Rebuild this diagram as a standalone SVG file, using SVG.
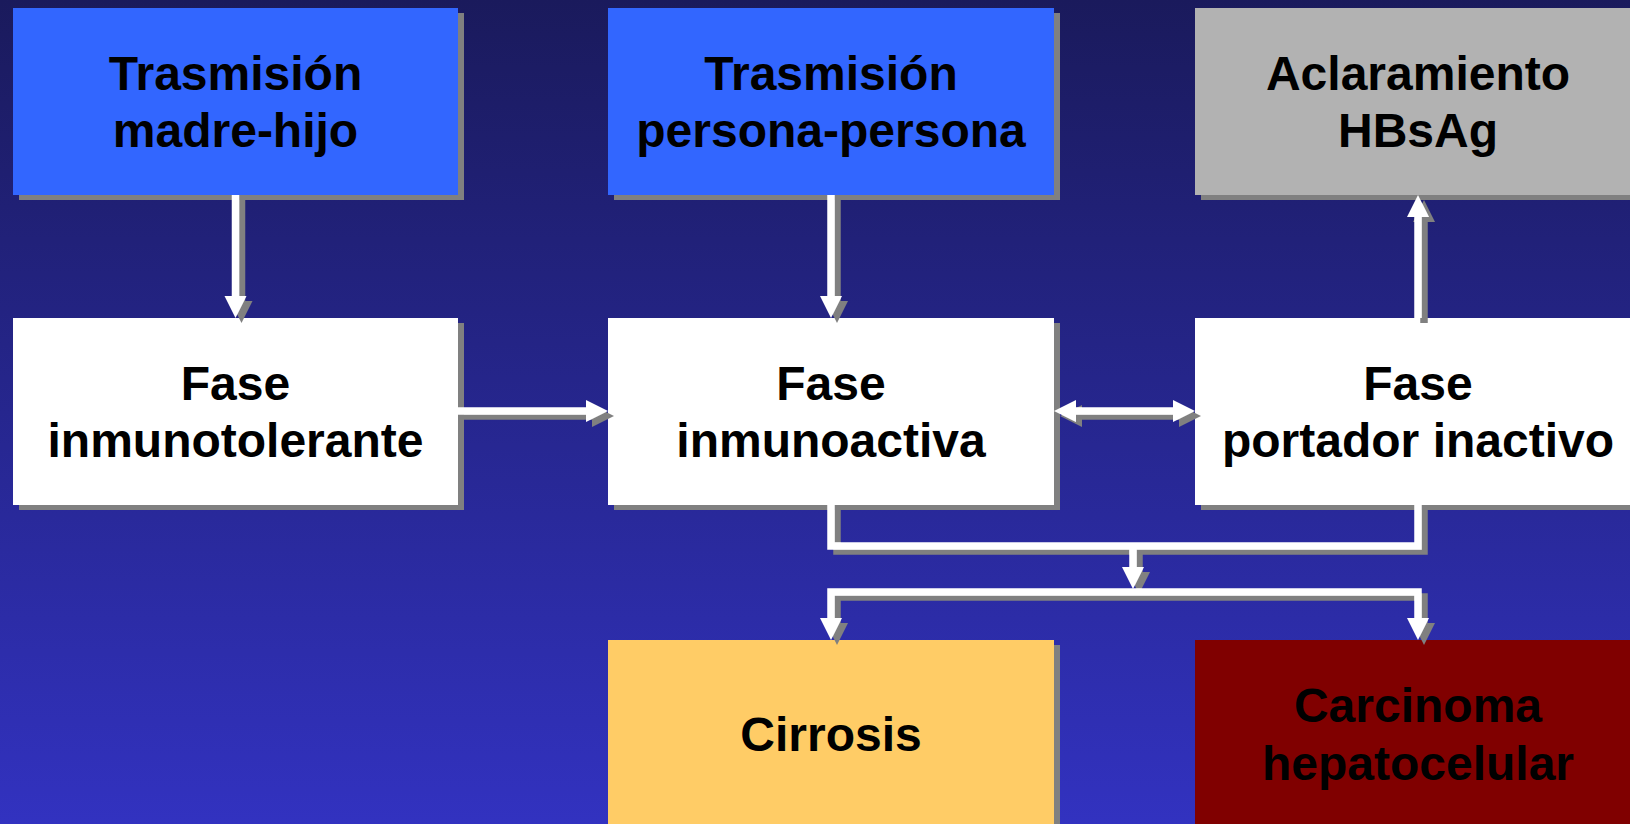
<svg xmlns="http://www.w3.org/2000/svg" width="1630" height="824" viewBox="0 0 1630 824">
  <defs>
    <linearGradient id="bg" x1="0" y1="0" x2="0" y2="1">
      <stop offset="0" stop-color="#1a1a5c"/>
      <stop offset="1" stop-color="#3232c0"/>
    </linearGradient>
    <filter id="boxsh" filterUnits="userSpaceOnUse" x="0" y="0" width="1630" height="824">
      <feOffset in="SourceAlpha" dx="6" dy="5" result="o"/>
      <feFlood flood-color="#808080"/>
      <feComposite in2="o" operator="in" result="s"/>
      <feMerge><feMergeNode in="s"/><feMergeNode in="SourceGraphic"/></feMerge>
    </filter>
    <filter id="linesh" filterUnits="userSpaceOnUse" x="0" y="0" width="1630" height="824">
      <feOffset in="SourceAlpha" dx="6" dy="5" result="o"/>
      <feFlood flood-color="#808080"/>
      <feComposite in2="o" operator="in" result="s"/>
      <feMerge><feMergeNode in="s"/><feMergeNode in="SourceGraphic"/></feMerge>
    </filter>
  </defs>
  <style>
    .box { filter: url(#boxsh); }
    .t { font-family: "Liberation Sans", Arial, sans-serif; font-weight: bold; font-size: 48px; fill: #000; text-anchor: middle; }
    .ln { fill: none; stroke: #fff; stroke-width: 7.5; stroke-linejoin: miter; stroke-linecap: butt; }
    .hd { fill: #fff; stroke: none; }
  </style>
  <rect width="1630" height="824" fill="url(#bg)"/>

  <g id="trasmision-madre-hijo">
    <rect class="box" x="13" y="8" width="445" height="187" fill="#3366ff"/>
    <text class="t" x="235.5" y="90">Trasmisión</text>
    <text class="t" x="235.5" y="147">madre-hijo</text>
  </g>
  <g id="trasmision-persona-persona">
    <rect class="box" x="608" y="8" width="446" height="187" fill="#3366ff"/>
    <text class="t" x="831" y="90">Trasmisión</text>
    <text class="t" x="831" y="147">persona-persona</text>
  </g>
  <g id="aclaramiento-hbsag">
    <rect class="box" x="1195" y="8" width="446" height="187" fill="#b2b2b2"/>
    <text class="t" x="1418" y="90">Aclaramiento</text>
    <text class="t" x="1418" y="147">HBsAg</text>
  </g>
  <g id="fase-inmunotolerante">
    <rect class="box" x="13" y="318" width="445" height="187" fill="#ffffff"/>
    <text class="t" x="235.5" y="400">Fase</text>
    <text class="t" x="235.5" y="457">inmunotolerante</text>
  </g>
  <g id="fase-inmunoactiva">
    <rect class="box" x="608" y="318" width="446" height="187" fill="#ffffff"/>
    <text class="t" x="831" y="400">Fase</text>
    <text class="t" x="831" y="457">inmunoactiva</text>
  </g>
  <g id="fase-portador-inactivo">
    <rect class="box" x="1195" y="318" width="446" height="187" fill="#ffffff"/>
    <text class="t" x="1418" y="400">Fase</text>
    <text class="t" x="1418" y="457">portador inactivo</text>
  </g>
  <g id="cirrosis">
    <rect class="box" x="608" y="640" width="446" height="187" fill="#ffcc66"/>
    <text class="t" x="831" y="751">Cirrosis</text>
  </g>
  <g id="carcinoma-hepatocelular">
    <rect class="box" x="1195" y="640" width="446" height="187" fill="#800000"/>
    <text class="t" x="1418" y="722">Carcinoma</text>
    <text class="t" x="1418" y="780">hepatocelular</text>
  </g>

  <g id="connectors" filter="url(#linesh)">
    <path class="ln" d="M235.5,195 V297"/>
    <polygon class="hd" points="224.5,296 246.5,296 235.5,318"/>
    <path class="ln" d="M831,195 V297"/>
    <polygon class="hd" points="820,296 842,296 831,318"/>
    <path class="ln" d="M1418,318 V216"/>
    <polygon class="hd" points="1407,217 1429,217 1418,195"/>
    <path class="ln" d="M458,411 H587"/>
    <polygon class="hd" points="586,400 586,422 608,411"/>
    <path class="ln" d="M1075,411 H1174"/>
    <polygon class="hd" points="1076,400 1076,422 1054,411"/>
    <polygon class="hd" points="1173,400 1173,422 1195,411"/>
    <path class="ln" d="M831,505 V546 H1418 V505"/>
    <path class="ln" d="M1133,546 V568"/>
    <polygon class="hd" points="1122,567 1144,567 1133,589"/>
    <path class="ln" d="M831,619 V592 H1418 V619"/>
    <polygon class="hd" points="820,618 842,618 831,640"/>
    <polygon class="hd" points="1407,618 1429,618 1418,640"/>
  </g>
</svg>
